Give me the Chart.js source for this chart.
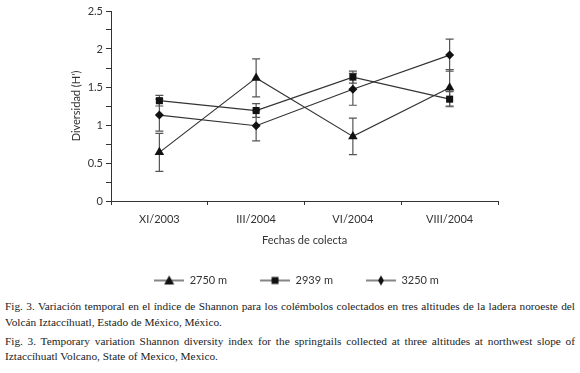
<!DOCTYPE html>
<html>
<head>
<meta charset="utf-8">
<script src="https://cdn.jsdelivr.net/npm/chart.js@4/dist/chart.umd.min.js"></script>
<style>
  html, body { margin: 0; padding: 0; background: #fff; }
  body { width: 580px; height: 373px; position: relative; overflow: hidden; }
  #wrap { position: absolute; left: 0; top: 0; width: 580px; height: 296px; }
  #caption { position: absolute; left: 5px; top: 299px; width: 570px;
    font-family: "Liberation Serif", "Times New Roman", serif; font-size: 11.3px; color: #222; line-height: 15.5px; }
  #caption .j { text-align: justify; text-align-last: justify; white-space: nowrap; }
  #caption .gap { height: 3.5px; }
</style>
</head>
<body>
<div id="wrap"><canvas id="diversidad" width="580" height="296"></canvas></div>
<div id="caption">
  <div class="j">Fig. 3. Variación temporal en el índice de Shannon para los colémbolos colectados en tres altitudes de la ladera noroeste del</div>
  <div>Volcán Iztaccíhuatl, Estado de México, México.</div>
  <div class="gap"></div>
  <div class="j">Fig. 3. Temporary variation Shannon diversity index for the springtails collected at three altitudes at northwest slope of</div>
  <div>Iztaccíhuatl Volcano, State of Mexico, Mexico.</div>
</div>
<script>
const fechas = ['XI/2003', 'III/2004', 'VI/2004', 'VIII/2004'];
const alt2750 = [0.64, 1.62, 0.85, 1.49];
const err2750 = [0.25, 0.25, 0.24, 0.24];
const alt2939 = [1.32, 1.19, 1.63, 1.34];
const err2939 = [0.07, 0.09, 0.08, 0.10];
const alt3250 = [1.13, 0.99, 1.47, 1.92];
const err3250 = [0.21, 0.20, 0.21, 0.21];
const yTickLabels = ['0', '0.5', '1', '1.5', '2', '2.5'];

const ink = '#333';
const fuente = { family: 'Lato, "Open Sans", sans-serif', size: 11 };

// icono de leyenda: linea con el marcador al centro
function iconoLeyenda(estilo) {
    const c = document.createElement('canvas');
    c.width = 30; c.height = 12;
    const g = c.getContext('2d');
    g.strokeStyle = ink; g.fillStyle = '#111'; g.lineWidth = 1.2;
    g.beginPath(); g.moveTo(0, 6); g.lineTo(30, 6); g.stroke();
    g.beginPath();
    if (estilo === 'triangle') {
        g.moveTo(15, 1); g.lineTo(20, 10); g.lineTo(10, 10);
    } else if (estilo === 'rect') {
        g.rect(11.5, 2.5, 7, 7);
    } else {
        g.moveTo(15, 1); g.lineTo(18, 6); g.lineTo(15, 11); g.lineTo(12, 6);
    }
    g.closePath(); g.fill();
    return c;
}

const barrasError = {
    id: 'barrasError',
    beforeDatasetsDraw(chart) {
        const ctx = chart.ctx;
        const y = chart.scales.y;
        ctx.save();
        ctx.strokeStyle = '#555';
        ctx.lineWidth = 1.2;
        chart.data.datasets.forEach((ds, i) => {
            const meta = chart.getDatasetMeta(i);
            ds.data.forEach((v, j) => {
                const px = meta.data[j].x;
                const top = y.getPixelForValue(v + ds.errores[j]);
                const bot = y.getPixelForValue(v - ds.errores[j]);
                ctx.beginPath();
                ctx.moveTo(px, top); ctx.lineTo(px, bot);
                ctx.moveTo(px - 4, top); ctx.lineTo(px + 4, top);
                ctx.moveTo(px - 4, bot); ctx.lineTo(px + 4, bot);
                ctx.stroke();
            });
        });
        ctx.restore();
    }
};

function serie(label, data, errores, estilo, radio) {
    return {
        label: label,
        data: data,
        errores: errores,
        borderColor: ink,
        backgroundColor: '#111',
        borderWidth: 1.2,
        pointStyle: estilo,
        pointRadius: radio,
        pointHoverRadius: radio,
        pointBorderWidth: 0,
        pointBackgroundColor: '#111',
        fill: false,
        tension: 0
    };
}

new Chart(document.getElementById('diversidad').getContext('2d'), {
    type: 'line',
    data: {
        labels: fechas,
        datasets: [
            serie('2750 m', alt2750, err2750, 'triangle', 5.5),
            serie('2939 m', alt2939, err2939, 'rect', 5),
            serie('3250 m', alt3250, err3250, 'rectRot', 4.5)
        ]
    },
    options: {
        responsive: false,
        animation: false,
        layout: { padding: { left: 13, right: 0, top: 11, bottom: 0 } },
        scales: {
            x: {
                offset: true,
                afterFit: s => { s.height = 41; },
                grid: { display: true, drawOnChartArea: false, drawTicks: true, tickLength: 4, offset: true, color: ink },
                border: { display: true, color: ink, width: 1 },
                ticks: { color: ink, font: fuente, padding: 8, maxRotation: 0 },
                title: { display: true, text: 'Fechas de colecta', color: ink, font: { family: fuente.family, size: 11 }, padding: { top: 0, bottom: -4.6 } }
            },
            y: {
                min: 0,
                max: 2.5,
                afterFit: s => { s.width = 98; },
                grid: { display: true, drawOnChartArea: false, drawTicks: true, tickLength: 5, color: ink },
                border: { display: true, color: ink, width: 1 },
                ticks: {
                    stepSize: 0.25,
                    autoSkip: false,
                    padding: 3,
                    color: ink,
                    font: fuente,
                    callback: v => {
                        const k = Math.round(v * 2);
                        return Math.abs(v * 2 - k) < 1e-6 ? yTickLabels[k] : '';
                    }
                },
                title: { display: true, text: "Diversidad (H')", color: ink, font: { family: fuente.family, size: 11 }, padding: { top: 57, bottom: 0 } }
            },
            // eje vacio a la derecha: deja el margen blanco sin descentrar la leyenda
            margen: {
                position: 'right',
                afterFit: s => { s.width = 82; },
                grid: { display: false },
                border: { display: false },
                ticks: { display: false }
            }
        },
        plugins: {
            legend: {
                display: true,
                position: 'bottom',
                labels: {
                    usePointStyle: true,
                    pointStyleWidth: 30,
                    padding: 33,
                    color: ink,
                    font: fuente,
                    generateLabels: chart => chart.data.datasets.map((ds, i) => ({
                        text: ds.label,
                        pointStyle: iconoLeyenda(ds.pointStyle),
                        fillStyle: '#111',
                        strokeStyle: ink,
                        lineWidth: 0,
                        fontColor: ink,
                        hidden: false,
                        datasetIndex: i
                    }))
                }
            },
            tooltip: { enabled: false }
        }
    },
    plugins: [barrasError]
});
</script>
</body>
</html>
